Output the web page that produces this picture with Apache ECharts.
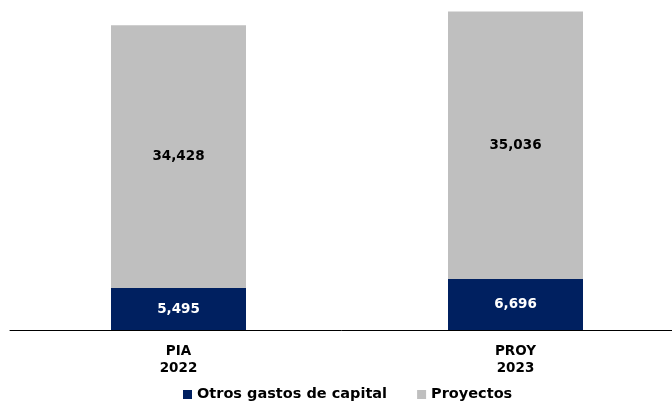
<!DOCTYPE html>
<html>
<head>
<meta charset="UTF-8">
<script src="https://cdn.jsdelivr.net/npm/echarts@6/dist/echarts.min.js"></script>
<style>html,body{margin:0;padding:0;background:#fff;}</style>
</head>
<body>
<div id="main" style="width:672px;height:402px;"></div>
<script>
var categories = ['PIA\n2022', 'PROY\n2023'];
var otros = [5495, 6696];
var proyectos = [34428, 35036];
var seriesNames = ['Otros gastos de capital', 'Proyectos'];

var chart = echarts.init(document.getElementById('main'));
var fmt = function (p) { return p.value.toLocaleString('en-US'); };
var font = 'DejaVu Sans, Arial, sans-serif';

chart.setOption({
  animation: false,
  legend: {
    data: seriesNames,
    top: 382,
    left: 178,
    itemWidth: 9,
    itemHeight: 9,
    itemGap: 30,
    icon: 'rect',
    textStyle: { fontFamily: font, fontWeight: 'bold', fontSize: 14.5, color: '#000', padding: [0, 0, 0, 0] }
  },
  grid: { left: 10, top: 11.5, width: 674, height: 318.5, outerBoundsMode: 'none', containLabel: false },
  xAxis: {
    type: 'category',
    data: categories,
    axisLine: { lineStyle: { color: '#000', width: 1 } },
    axisTick: { show: false },
    axisLabel: { fontFamily: font, fontWeight: 'bold', fontSize: 13.5, color: '#000', lineHeight: 17, margin: 13 }
  },
  yAxis: {
    type: 'value',
    min: 0,
    max: 41732,
    show: false,
    splitLine: { show: false }
  },
  series: [
    {
      name: seriesNames[0],
      type: 'bar',
      stack: 'a',
      data: otros,
      barWidth: 135,
      itemStyle: { color: '#002060' },
      label: { show: true, position: 'inside', formatter: fmt, color: '#fff', fontFamily: font, fontWeight: 'bold', fontSize: 13.5 }
    },
    {
      name: seriesNames[1],
      type: 'bar',
      stack: 'a',
      data: proyectos,
      barWidth: 135,
      itemStyle: { color: '#bfbfbf' },
      label: { show: true, position: 'inside', formatter: fmt, color: '#000', fontFamily: font, fontWeight: 'bold', fontSize: 13.5 }
    }
  ]
});
</script>
</body>
</html>
